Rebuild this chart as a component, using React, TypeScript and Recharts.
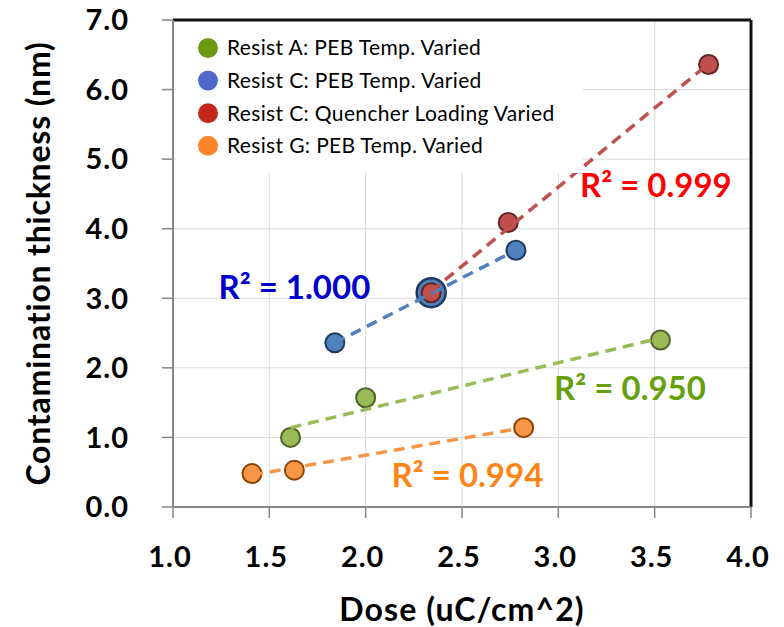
import React from "react";
import {
  ScatterChart,
  Scatter,
  XAxis,
  YAxis,
  CartesianGrid,
  ReferenceLine,
  ReferenceDot,
  Legend,
} from "recharts";

const FONT = "Lato, 'Open Sans', sans-serif";

const seriesNames = [
  "Resist A: PEB Temp. Varied",
  "Resist C: PEB Temp. Varied",
  "Resist C: Quencher Loading Varied",
  "Resist G: PEB Temp. Varied",
];

// dose (uC/cm^2) and contamination thickness (nm) per resist
const resistAPebX = [1.61, 2.0, 3.53];
const resistAPebY = [1.0, 1.57, 2.4];
const resistCPebX = [1.84, 2.34, 2.78];
const resistCPebY = [2.36, 3.08, 3.69];
const resistCQuencherX = [2.34, 2.74, 3.78];
const resistCQuencherY = [3.08, 4.09, 6.36];
const resistGPebX = [1.41, 1.63, 2.82];
const resistGPebY = [0.48, 0.53, 1.14];

// linear trendline end points
const trendAX = [1.61, 3.53];
const trendAY = [1.14, 2.43];
const trendCPebX = [1.84, 2.78];
const trendCPebY = [2.36, 3.69];
const trendCQuencherX = [2.34, 3.78];
const trendCQuencherY = [3.1, 6.37];
const trendGX = [1.41, 2.82];
const trendGY = [0.46, 1.14];

const rSquared = [0.95, 1.0, 0.999, 0.994];

const xTicks = [1.0, 1.5, 2.0, 2.5, 3.0, 3.5, 4.0];
const yTicks = [0, 1, 2, 3, 4, 5, 6, 7];

const legendColors = ["#6A9A12", "#4F69C8", "#C0281B", "#FD8428"];

const toPoints = (xs: number[], ys: number[]) =>
  xs.map((x, i) => ({ x, y: ys[i] }));

const marker =
  (fill: string, stroke: string, bigX?: number) => (props: any) => {
    const { cx, cy, payload } = props;
    const big = bigX !== undefined && payload && payload.x === bigX;
    return (
      <circle
        cx={cx}
        cy={cy}
        r={big ? 14.5 : 9.5}
        fill={fill}
        stroke={stroke}
        strokeWidth={big ? 2.5 : 2}
      />
    );
  };

const noMarker = () => <g />;

const trendStyle = (stroke: string) => ({
  stroke,
  strokeWidth: 3.5,
  strokeDasharray: "11 7",
});

const LegendBox = () => (
  <svg width={407} height={151}>
    {seriesNames.map((name, i) => (
      <g key={name}>
        <circle cx={32} cy={26 + i * 32.6} r={10} fill={legendColors[i]} />
        <text
          x={51}
          y={26 + i * 32.6}
          dy="0.35em"
          fontSize={21}
          letterSpacing={0.35}
          fontFamily={FONT}
          fill="#000"
        >
          {name}
        </text>
      </g>
    ))}
  </svg>
);

const r2Label = (value: number, color: string) => ({
  value: `R² = ${value.toFixed(3)}`,
  position: "center" as const,
  fill: color,
  fontSize: 33,
  fontWeight: 700,
  fontFamily: FONT,
});

export default function App() {
  const tickStyle = {
    fontSize: 29,
    fontWeight: 700,
    fill: "#000",
    fontFamily: FONT,
    letterSpacing: 1,
  };

  return (
    <div style={{ position: "absolute", left: 0, top: 0 }}>
      <ScatterChart
        width={784}
        height={627}
        margin={{ top: 20, right: 33, left: 0, bottom: 0 }}
      >
        <CartesianGrid stroke="#D9D9D9" strokeWidth={1} />
        <XAxis
          type="number"
          dataKey="x"
          domain={[1, 4]}
          ticks={xTicks}
          interval={0}
          height={120}
          tickFormatter={(v: number) => v.toFixed(1)}
          tick={{ ...tickStyle, dx: -3 }}
          tickSize={11}
          tickMargin={28}
          axisLine={{ stroke: "#868686", strokeWidth: 2 }}
          tickLine={{ stroke: "#868686", strokeWidth: 1.5 }}
          label={{
            content: (p: any) => {
              const vb = p.viewBox || { x: 173, width: 578 };
              return (
                <text
                  x={vb.x + vb.width / 2}
                  y={621}
                  textAnchor="middle"
                  fontSize={32}
                  letterSpacing={1.1}
                  fontWeight={700}
                  fontFamily={FONT}
                  fill="#000"
                >
                  Dose (uC/cm^2)
                </text>
              );
            },
          }}
        />
        <YAxis
          type="number"
          dataKey="y"
          domain={[0, 7]}
          ticks={yTicks}
          interval={0}
          width={173}
          tickFormatter={(v: number) => v.toFixed(1)}
          tick={tickStyle}
          tickSize={11}
          tickMargin={33}
          axisLine={{ stroke: "#868686", strokeWidth: 2 }}
          tickLine={{ stroke: "#868686", strokeWidth: 1.5 }}
          label={{
            content: (p: any) => {
              const vb = p.viewBox || { y: 20, height: 487 };
              const cy = vb.y + vb.height / 2;
              return (
                <text
                  x={50}
                  y={cy}
                  transform={`rotate(-90 50 ${cy})`}
                  textAnchor="middle"
                  fontSize={32}
                  letterSpacing={0.8}
                  fontWeight={700}
                  fontFamily={FONT}
                  fill="#000"
                >
                  Contamination thickness (nm)
                </text>
              );
            },
          }}
        />
        <ReferenceLine y={7} stroke="#111" strokeWidth={3} />
        <ReferenceLine x={4} stroke="#111" strokeWidth={3} />

        <Scatter
          name={seriesNames[0]}
          data={toPoints(resistAPebX, resistAPebY)}
          fill="#9BBB59"
          shape={marker("#9BBB59", "#4F6228")}
          isAnimationActive={false}
        />
        <Scatter
          name={seriesNames[1]}
          data={toPoints(resistCPebX, resistCPebY)}
          fill="#4F81BD"
          shape={marker("#4F81BD", "#1F3A5F", resistCPebX[1])}
          isAnimationActive={false}
        />
        <Scatter
          name={seriesNames[2]}
          data={toPoints(resistCQuencherX, resistCQuencherY)}
          fill="#C0504D"
          shape={marker("#C0504D", "#632523")}
          isAnimationActive={false}
        />
        <Scatter
          name={seriesNames[3]}
          data={toPoints(resistGPebX, resistGPebY)}
          fill="#F79646"
          shape={marker("#F79646", "#8B4300")}
          isAnimationActive={false}
        />

        <Scatter
          data={toPoints(trendAX, trendAY)}
          line={trendStyle("#9BBB59")}
          shape={noMarker}
          legendType="none"
          isAnimationActive={false}
        />
        <Scatter
          data={toPoints(trendCPebX, trendCPebY)}
          line={trendStyle("#4F81BD")}
          shape={noMarker}
          legendType="none"
          isAnimationActive={false}
        />
        <Scatter
          data={toPoints(trendCQuencherX, trendCQuencherY)}
          line={trendStyle("#C0504D")}
          shape={noMarker}
          legendType="none"
          isAnimationActive={false}
        />
        <Scatter
          data={toPoints(trendGX, trendGY)}
          line={trendStyle("#F79646")}
          shape={noMarker}
          legendType="none"
          isAnimationActive={false}
        />

        <ReferenceDot
          x={1.63}
          y={3.16}
          r={0}
          fill="none"
          stroke="none"
          label={r2Label(rSquared[1], "#0000CC")}
        />
        <ReferenceDot
          x={3.506}
          y={4.62}
          r={0}
          fill="none"
          stroke="none"
          label={r2Label(rSquared[2], "#FF0000")}
        />
        <ReferenceDot
          x={3.372}
          y={1.71}
          r={0}
          fill="none"
          stroke="none"
          label={r2Label(rSquared[0], "#66A00C")}
        />
        <ReferenceDot
          x={2.528}
          y={0.46}
          r={0}
          fill="none"
          stroke="none"
          label={r2Label(rSquared[3], "#FB8516")}
        />

        <Legend
          layout="horizontal"
          align="center"
          verticalAlign="middle"
          content={() => <LegendBox />}
          wrapperStyle={{
            left: 176,
            top: 22,
            width: 407,
            height: 151,
            background: "#fff",
          }}
        />
      </ScatterChart>
    </div>
  );
}
